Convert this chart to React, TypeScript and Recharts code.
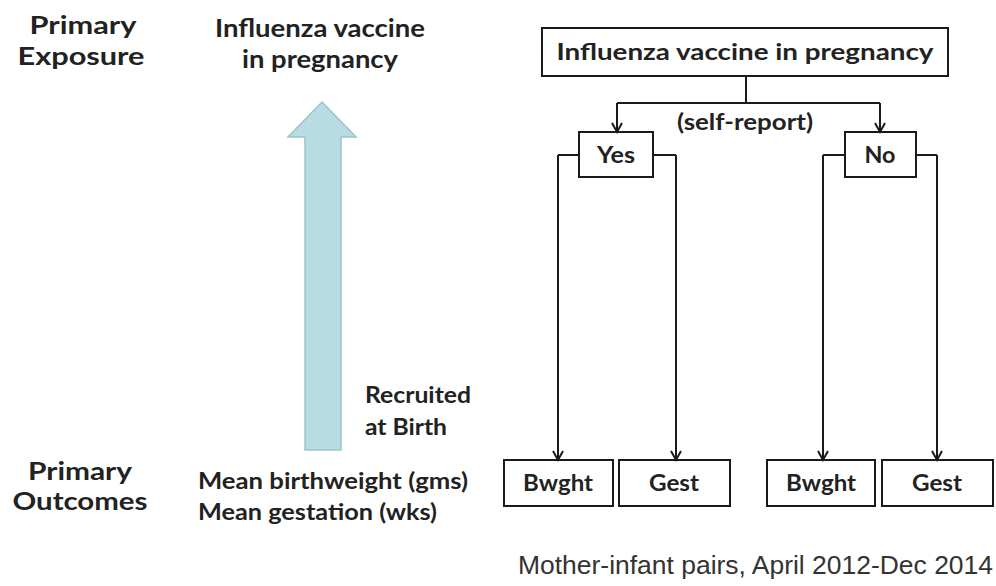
import React from 'react';
import { ComposedChart, XAxis, YAxis, Scatter, ReferenceArea, ReferenceLine } from 'recharts';

const WIDTH = 996;
const HEIGHT = 586;

// flow-chart boxes, in page units (x to the right, y downwards)
const boxes = [
  { id: 'exposure', x1: 542, x2: 948, y1: 28, y2: 76 },
  { id: 'yes', x1: 579, x2: 653, y1: 132, y2: 177 },
  { id: 'no', x1: 845, x2: 916, y1: 132, y2: 177 },
  { id: 'yesBwght', x1: 504, x2: 613, y1: 460, y2: 506 },
  { id: 'yesGest', x1: 619, x2: 730, y1: 460, y2: 506 },
  { id: 'noBwght', x1: 767, x2: 875, y1: 460, y2: 506 },
  { id: 'noGest', x1: 882, x2: 993, y1: 460, y2: 506 }
];

// connector segments
const connectors = [
  { x1: 746, y1: 76, x2: 746, y2: 103 },
  { x1: 617, y1: 103, x2: 880, y2: 103 },
  { x1: 617, y1: 103, x2: 617, y2: 132 },
  { x1: 880, y1: 103, x2: 880, y2: 132 },
  { x1: 579, y1: 155, x2: 558, y2: 155 },
  { x1: 558, y1: 155, x2: 558, y2: 460 },
  { x1: 653, y1: 155, x2: 676, y2: 155 },
  { x1: 676, y1: 155, x2: 676, y2: 460 },
  { x1: 845, y1: 155, x2: 823, y2: 155 },
  { x1: 823, y1: 155, x2: 823, y2: 460 },
  { x1: 916, y1: 155, x2: 937, y2: 155 },
  { x1: 937, y1: 155, x2: 937, y2: 460 }
];

// arrow tips (pointing down)
const arrowTips = [
  { x: 617, y: 132 },
  { x: 880, y: 132 },
  { x: 558, y: 460 },
  { x: 676, y: 460 },
  { x: 823, y: 460 },
  { x: 937, y: 460 }
];

// the big upward arrow: outer extent, head base and shaft edges
const bigArrow = { x1: 288, x2: 356, y1: 102, y2: 450, headBase: 137, shaftLeft: 305, shaftRight: 341 };

// w = measured text width in the reference
const headings = [
  { x: 83, y: 34, text: 'Primary', anchor: 'middle', w: 107 },
  { x: 81, y: 65, text: 'Exposure', anchor: 'middle', w: 127 },
  { x: 80, y: 480, text: 'Primary', anchor: 'middle', w: 104 },
  { x: 80, y: 510, text: 'Outcomes', anchor: 'middle', w: 135 }
];

const exposureTitle = [
  { x: 320, y: 37, text: 'Influenza vaccine', anchor: 'middle', w: 210 },
  { x: 320, y: 68, text: 'in pregnancy', anchor: 'middle', w: 156 }
];

const notes = [
  { x: 365, y: 403, text: 'Recruited', anchor: 'start', w: 106 },
  { x: 365, y: 435, text: 'at Birth', anchor: 'start', w: 82 },
  { x: 198, y: 489, text: 'Mean birthweight (gms)', anchor: 'start', w: 270 },
  { x: 198, y: 520, text: 'Mean gestation (wks)', anchor: 'start', w: 239 }
];

const boxLabels = [
  { x: 745, y: 60, text: 'Influenza vaccine in pregnancy', anchor: 'middle', w: 377 },
  { x: 745, y: 130, text: '(self-report)', anchor: 'middle', w: 136 },
  { x: 616, y: 163, text: 'Yes', anchor: 'middle', w: 38 },
  { x: 880, y: 163, text: 'No', anchor: 'middle', w: 31 },
  { x: 558, y: 491, text: 'Bwght', anchor: 'middle', w: 70 },
  { x: 674, y: 491, text: 'Gest', anchor: 'middle', w: 50 },
  { x: 821, y: 491, text: 'Bwght', anchor: 'middle', w: 70 },
  { x: 937, y: 491, text: 'Gest', anchor: 'middle', w: 50 }
];

const footer = [{ x: 993, y: 574, text: 'Mother-infant pairs, April 2012-Dec 2014', anchor: 'end', w: 475 }];

const INK = '#1a1a1a';

const makeText = (size: number, weight: string, family: string, color: string) => (props: any) => {
  const { cx, cy, payload } = props;
  return (
    <text
      x={cx}
      y={cy}
      textAnchor={payload.anchor}
      fontSize={size}
      fontWeight={weight}
      fontFamily={family}
      fill={color}
      textLength={payload.w}
      lengthAdjust="spacingAndGlyphs"
    >
      {payload.text}
    </text>
  );
};

const Chevron = (props: any) => {
  const { cx, cy } = props;
  return <path d={`M${cx - 5},${cy - 9} L${cx},${cy} L${cx + 5},${cy - 9}`} fill="none" stroke={INK} strokeWidth={2} />;
};

const ArrowShape = (props: any) => {
  const { x, y, width, height } = props;
  const span = bigArrow.y2 - bigArrow.y1;
  const wide = bigArrow.x2 - bigArrow.x1;
  const hb = y + ((bigArrow.headBase - bigArrow.y1) / span) * height;
  const sl = x + ((bigArrow.shaftLeft - bigArrow.x1) / wide) * width;
  const sr = x + ((bigArrow.shaftRight - bigArrow.x1) / wide) * width;
  const pts = [
    [x + width / 2, y],
    [x + width, hb],
    [sr, hb],
    [sr, y + height],
    [sl, y + height],
    [sl, hb],
    [x, hb]
  ];
  return <polygon points={pts.map((p) => p.join(',')).join(' ')} fill="#b7dde3" stroke="#9cc4cb" strokeWidth={1.5} />;
};

const LATO = 'Lato, "Noto Sans", sans-serif';

export default function App() {
  return (
    <div style={{ position: 'absolute', left: 0, top: 0, width: WIDTH, height: HEIGHT, background: '#fff' }}>
      <ComposedChart width={WIDTH} height={HEIGHT} margin={{ top: 0, right: 0, bottom: 0, left: 0 }}>
        <XAxis type="number" dataKey="x" domain={[0, WIDTH]} hide allowDataOverflow />
        <YAxis type="number" dataKey="y" domain={[0, HEIGHT]} reversed hide allowDataOverflow />
        <ReferenceArea
          x1={bigArrow.x1}
          x2={bigArrow.x2}
          y1={bigArrow.y1}
          y2={bigArrow.y2}
          shape={ArrowShape}
          ifOverflow="visible"
        />
        {boxes.map((b) => (
          <ReferenceArea
            key={b.id}
            x1={b.x1}
            x2={b.x2}
            y1={b.y1}
            y2={b.y2}
            fill="none"
            stroke={INK}
            strokeWidth={2}
            ifOverflow="visible"
          />
        ))}
        {connectors.map((c, i) => (
          <ReferenceLine
            key={i}
            segment={[{ x: c.x1, y: c.y1 }, { x: c.x2, y: c.y2 }]}
            stroke={INK}
            strokeWidth={2}
            ifOverflow="visible"
          />
        ))}
        <Scatter data={arrowTips} shape={Chevron} isAnimationActive={false} />
        <Scatter data={headings} shape={makeText(25, 'bold', LATO, '#222')} isAnimationActive={false} />
        <Scatter data={exposureTitle} shape={makeText(24, 'bold', LATO, '#222')} isAnimationActive={false} />
        <Scatter data={notes} shape={makeText(22, 'bold', LATO, '#222')} isAnimationActive={false} />
        <Scatter data={boxLabels} shape={makeText(23, 'bold', LATO, '#222')} isAnimationActive={false} />
        <Scatter
          data={footer}
          shape={makeText(25, 'normal', '"Liberation Sans", Arial, sans-serif', '#333')}
          isAnimationActive={false}
        />
      </ComposedChart>
    </div>
  );
}
